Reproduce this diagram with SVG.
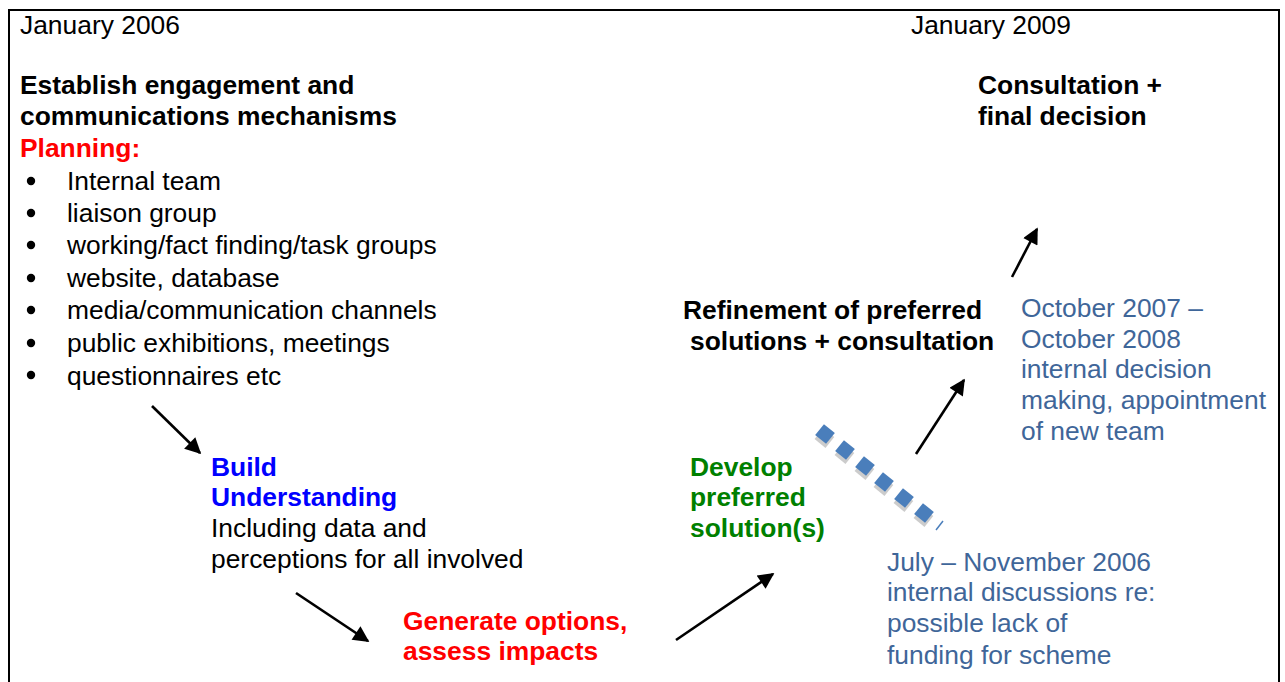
<svg xmlns="http://www.w3.org/2000/svg" width="1285" height="682" viewBox="0 0 1285 682">
<defs>
<style>
text{font-family:"Liberation Sans",Arial,sans-serif;font-size:26.4px;fill:#000}
.b{font-weight:bold}
.red{fill:#ff0000}
.blue{fill:#0000ff}
.green{fill:#008000}
.steel{fill:#3f6699}
.conn{stroke:#000;stroke-width:2.6;fill:none;marker-end:url(#ah)}
</style>
<marker id="ah" viewBox="0 0 10 10" refX="9" refY="5" markerUnits="userSpaceOnUse" markerWidth="18" markerHeight="16" orient="auto">
<path d="M0,0 L10,5 L0,10 Z" fill="#000"/>
</marker>
<g id="dia">
<rect x="-7" y="-7" width="14" height="14" fill="#cccccc" transform="translate(-1,4) rotate(45)"/>
<rect x="-7" y="-7" width="14" height="14" fill="#4a7ebb" transform="rotate(45)"/>
</g>
</defs>
<rect x="0" y="0" width="1285" height="682" fill="#fff"/>
<rect x="9" y="10" width="1270" height="700" fill="none" stroke="#000" stroke-width="2"/>

<g transform="translate(0,1)">
<g id="dates">
<text x="20" y="33">January 2006</text>
<text x="911" y="33">January 2009</text>
</g>

<g id="node-establish">
<text class="b" x="20" y="93">Establish engagement and</text>
<text class="b" x="20" y="124">communications mechanisms</text>
<text class="b red" x="20" y="156">Planning:</text>
<g>
<circle cx="31" cy="180" r="4.2"/><text x="67" y="189">Internal team</text>
<circle cx="31" cy="212" r="4.2"/><text x="67" y="221">liaison group</text>
<circle cx="31" cy="244" r="4.2"/><text x="67" y="253">working/fact finding/task groups</text>
<circle cx="31" cy="277" r="4.2"/><text x="67" y="286">website, database</text>
<circle cx="31" cy="309" r="4.2"/><text x="67" y="318">media/communication channels</text>
<circle cx="31" cy="342" r="4.2"/><text x="67" y="351">public exhibitions, meetings</text>
<circle cx="31" cy="374" r="4.2"/><text x="67" y="384">questionnaires etc</text>
</g>
</g>

<g id="node-build">
<text class="b blue" x="211" y="475">Build</text>
<text class="b blue" x="211" y="505">Understanding</text>
<text x="211" y="536">Including data and</text>
<text x="211" y="567">perceptions for all involved</text>
</g>

<g id="node-generate">
<text class="b red" x="403" y="629">Generate options,</text>
<text class="b red" x="403" y="659">assess impacts</text>
</g>

<g id="node-develop">
<text class="b green" x="690" y="475">Develop</text>
<text class="b green" x="690" y="505">preferred</text>
<text class="b green" x="690" y="536">solution(s)</text>
</g>

<g id="node-refinement">
<text class="b" x="683" y="318">Refinement of preferred</text>
<text class="b" x="690" y="349">solutions + consultation</text>
</g>

<g id="node-consultation">
<text class="b" x="978" y="93">Consultation +</text>
<text class="b" x="978" y="124">final decision</text>
</g>

<g id="note-oct">
<text class="steel" x="1021" y="316">October 2007 –</text>
<text class="steel" x="1021" y="347">October 2008</text>
<text class="steel" x="1021" y="377">internal decision</text>
<text class="steel" x="1021" y="408">making, appointment</text>
<text class="steel" x="1021" y="439">of new team</text>
</g>

<g id="note-july">
<text class="steel" x="887" y="570">July – November 2006</text>
<text class="steel" x="887" y="600">internal discussions re:</text>
<text class="steel" x="887" y="631">possible lack of</text>
<text class="steel" x="887" y="663">funding for scheme</text>
</g>
</g>

<g id="connectors">
<line class="conn" x1="152" y1="406" x2="200" y2="453"/>
<line class="conn" x1="296" y1="593" x2="368" y2="641"/>
<line class="conn" x1="676" y1="640" x2="773" y2="574"/>
<line class="conn" x1="916" y1="454" x2="964" y2="380"/>
<line class="conn" x1="1012" y1="277" x2="1037" y2="229"/>
<g id="break-line">
<use href="#dia" transform="translate(825,434) rotate(-6)"/>
<use href="#dia" transform="translate(845,450) rotate(-6)"/>
<use href="#dia" transform="translate(865,466) rotate(-6)"/>
<use href="#dia" transform="translate(884,482) rotate(-6)"/>
<use href="#dia" transform="translate(904,498) rotate(-6)"/>
<use href="#dia" transform="translate(924,513) rotate(-6)"/>
<line x1="936" y1="530" x2="943" y2="521" stroke="#4a7ebb" stroke-width="1.5"/>
</g>
</g>
</svg>
